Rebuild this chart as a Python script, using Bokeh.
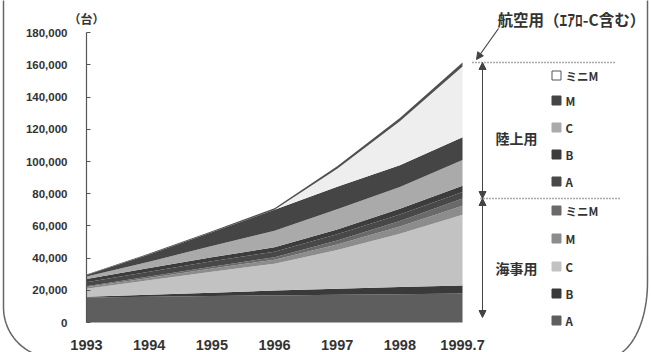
import math
from bokeh.plotting import figure
from bokeh.models import (ColumnDataSource, Range1d, FixedTicker, NumeralTickFormatter,
                          Arrow, NormalHead)
from bokeh.core.properties import value
from bokeh.embed import file_html
from bokeh.resources import INLINE

# ---------------- data ----------------
years = ["1993", "1994", "1995", "1996", "1997", "1998", "1999.7"]
x = list(range(len(years)))

kaiji_A     = [15500, 16000, 16500, 16800, 17200, 17600, 18000]
kaiji_B     = [500, 1200, 2000, 3000, 3800, 4500, 5000]
kaiji_C     = [5000, 9000, 13000, 16700, 24000, 33000, 44000]
kaiji_M     = [1000, 1500, 2000, 2500, 3500, 4500, 5500]
kaiji_miniM = [500, 800, 1200, 1500, 2500, 3500, 4500]
riku_A      = [2500, 3000, 3300, 3500, 3800, 4000, 4000]
riku_B      = [2000, 2300, 2500, 2700, 3000, 3500, 4000]
riku_C      = [1500, 4000, 7000, 10300, 12500, 13500, 16000]
riku_M      = [1000, 4500, 8500, 13000, 14000, 13500, 14000]
riku_miniM  = [0, 0, 0, 0, 11200, 27400, 44000]
koku        = [300, 500, 700, 1000, 1500, 2000, 2500]

y_ticks = list(range(0, 180001, 20000))
series_labels = ["A", "B", "C", "M", "ミニM"]
group_labels = ["陸上用", "海事用"]
unit_label = "（台）"
koku_label = "航空用（ｴｱﾛ-C含む）"

# ---------------- layout ----------------
W, H = 651, 352
X0_PX, Y0_PX = 86, 322          # pixel position of the data origin
PX_PER_X = 62.67
PX_PER_Y = 322 / 200000


def dx(px):
    return (px - X0_PX) / PX_PER_X


def dy(py):
    return (Y0_PX - py) / PX_PER_Y


keys = ["kA", "kB", "kC", "kM", "kmini", "rA", "rB", "rC", "rM", "rmini", "koku"]
series = [kaiji_A, kaiji_B, kaiji_C, kaiji_M, kaiji_miniM,
          riku_A, riku_B, riku_C, riku_M, riku_miniM, koku]
colors = ["#5e5e5e", "#3a3a3a", "#c2c2c2", "#8c8c8c", "#6a6a6a",
          "#484848", "#3c3c3c", "#aaaaaa", "#454545", "#eeeeee", "#505050"]

data = {"x": x}
for k, s in zip(keys, series):
    data[k] = s
src = ColumnDataSource(data)

p = figure(width=W, height=H, output_backend="svg", toolbar_location=None,
           x_range=Range1d(dx(0), dx(W)), y_range=Range1d(dy(H), dy(0)),
           min_border_left=0, min_border_right=0, min_border_top=0, min_border_bottom=0)
p.xgrid.visible = False
p.ygrid.visible = False
p.outline_line_color = None
p.background_fill_color = "white"
p.border_fill_color = "white"

p.varea_stack(stackers=keys, x="x", color=colors, source=src)

# axes (drawn inside the frame at the data origin)
xa = p.xaxis[0]
xa.fixed_location = 0
xa.ticker = FixedTicker(ticks=x)
xa.major_label_overrides = {i: years[i] for i in x}
xa.bounds = (0, len(x) - 1)
xa.axis_line_color = None
xa.major_tick_line_color = None
xa.minor_tick_line_color = None
xa.major_label_standoff = 11
xa.major_label_text_font = "Liberation Sans"
xa.major_label_text_font_style = "bold"
xa.major_label_text_font_size = "14.5px"
xa.major_label_text_color = "#333333"

ya = p.yaxis[0]
ya.fixed_location = 0
ya.ticker = FixedTicker(ticks=y_ticks)
ya.formatter = NumeralTickFormatter(format="0,0")
ya.bounds = (0, y_ticks[-1])
ya.axis_line_color = "#555555"
ya.axis_line_width = 1.2
ya.major_tick_in = 4
ya.major_tick_out = 0
ya.major_tick_line_color = "#555555"
ya.minor_tick_line_color = None
ya.major_label_standoff = 19
ya.major_label_text_font = "Liberation Sans"
ya.major_label_text_font_style = "bold"
ya.major_label_text_font_size = "11.5px"
ya.major_label_text_color = "#333333"

cjk = value("Noto Sans CJK JP")

# unit label
p.text(x=[dx(86)], y=[dy(18)], text=[unit_label], text_font=cjk, text_font_style="bold",
       text_font_size="12px", text_align="center", text_baseline="middle", text_color="#333333")

# aviation label and pointer
p.text(x=[dx(497)], y=[dy(18)], text=[koku_label], text_font=cjk, text_font_style="bold",
       text_font_size="15.5px", text_align="left", text_baseline="middle", text_color="#333333")
p.add_layout(Arrow(end=NormalHead(size=7, fill_color="#444444", line_color="#444444"),
                   x_start=dx(498), y_start=dy(28), x_end=dx(476), y_end=dy(59),
                   line_color="#444444", line_width=1.2))

# reference levels: total and maritime total at last point
last = len(x) - 1
total_last = sum(s[last] for s in series)
kaiji_last = sum(s[last] for s in series[:5])
p.segment(x0=[dx(472), dx(480)], y0=[total_last, kaiji_last],
          x1=[dx(615), dx(620)], y1=[total_last, kaiji_last],
          line_color="#555555", line_width=1.6, line_dash="1 2")

# range arrows
ax = dx(482)
for (y0, y1) in [(total_last, kaiji_last), (kaiji_last, dy(317))]:
    p.add_layout(Arrow(start=NormalHead(size=7, fill_color="#444444", line_color="#444444"),
                       end=NormalHead(size=7, fill_color="#444444", line_color="#444444"),
                       x_start=ax, y_start=y0, x_end=ax, y_end=y1,
                       line_color="#444444", line_width=1))

# group labels
p.text(x=[dx(495), dx(495)], y=[dy(137), dy(267)], text=group_labels, text_font=cjk,
       text_font_style="bold", text_font_size="14px", text_align="left",
       text_baseline="middle", text_color="#333333")

# legend swatches and labels
riku_rows = [75, 100, 127, 154, 181]
kaiji_rows = [210, 238, 266, 293, 320]
riku_colors = colors[5:10][::-1]
kaiji_colors = colors[0:5][::-1]
lab_order = series_labels[::-1]
sw_x = [dx(556)] * 10
sw_y = [dy(r) for r in riku_rows + kaiji_rows]
sw_fill = riku_colors + kaiji_colors
sw_fill[0] = "#ffffff"
sw_line = [c for c in sw_fill]
sw_line[0] = "#555555"
p.rect(x=sw_x, y=sw_y, width=9, height=9, width_units="screen", height_units="screen",
       fill_color=sw_fill, line_color=sw_line, line_width=1)
p.text(x=[dx(565)] * 10, y=sw_y, text=lab_order + lab_order, text_font=cjk,
       text_font_style="bold", text_font_size="11.5px", text_align="left",
       text_baseline="middle", text_color="#333333")

# rounded frame of the original (scanned) figure, its bottom edge just off the page
bx, by = [], []
left_x, right_x, bot_y = 3, 647, 357
r1x, r1y = 50, 50
r2x, r2y = 40, 75
bx += [left_x]; by += [-20]
for i in range(0, 25):
    a = math.pi + (math.pi / 2) * i / 24
    bx.append(left_x + r1x + r1x * math.cos(a)); by.append(bot_y - r1y - r1y * math.sin(a))
for i in range(0, 25):
    a = 1.5 * math.pi + (math.pi / 2) * i / 24
    bx.append(right_x - r2x + r2x * math.cos(a)); by.append(bot_y - r2y - r2y * math.sin(a))
bx += [right_x]; by += [-20]
p.line(x=[dx(v) for v in bx], y=[dy(v) for v in by], line_color="#666666", line_width=1.5)

open("out.html", "w").write(file_html(p, INLINE))
